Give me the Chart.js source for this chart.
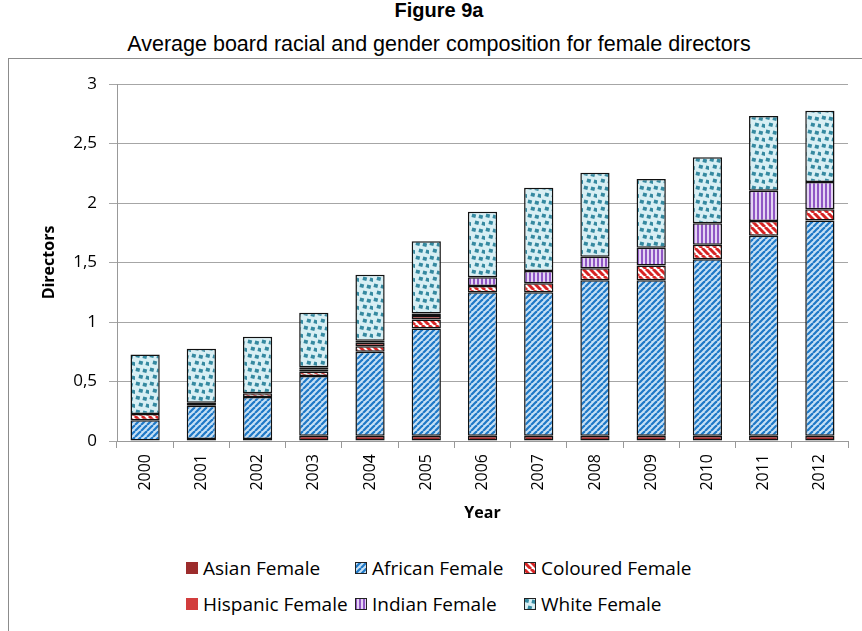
<!DOCTYPE html>
<html>
<head>
<meta charset="utf-8">
<script src="https://cdn.jsdelivr.net/npm/chart.js@4.4.1/dist/chart.umd.min.js"></script>
<style>
  body { margin: 0; background: #fff; width: 862px; height: 631px; overflow: hidden; position: relative; }
  #title { position: absolute; left: 8px; width: 862px; top: -1px; text-align: center; font: bold 20px "Liberation Sans", Arial, sans-serif; }
  #subtitle { position: absolute; left: 8px; width: 862px; top: 32px; text-align: center; font: 21.5px "Liberation Sans", Arial, sans-serif; }
  #box { position: absolute; left: 8px; top: 58px; width: 870px; height: 600px; border: 1px solid #8c8c8c; }
  #chart { position: absolute; left: 9px; top: 59px; }
  .lg { position: absolute; font: 19px "Open Sans", sans-serif; color: #000; white-space: nowrap; }
  .lg canvas { position: absolute; left: -17px; top: 7px; }
</style>
</head>
<body>
<div id="title">Figure 9a</div>
<div id="subtitle">Average board racial and gender composition for female directors</div>
<div id="box"></div>
<canvas id="chart" width="853" height="480"></canvas>
<div id="legend"></div>
<script>
const years = ['2000', '2001', '2002', '2003', '2004', '2005', '2006', '2007', '2008', '2009', '2010', '2011', '2012'];
const asian    = [0, 0.017, 0.017, 0.045, 0.045, 0.045, 0.045, 0.045, 0.045, 0.045, 0.045, 0.045, 0.045];
const african  = [0.174, 0.28, 0.353, 0.501, 0.706, 0.9, 1.205, 1.205, 1.306, 1.306, 1.482, 1.68, 1.807];
const coloured = [0.053, 0.025, 0.031, 0.036, 0.045, 0.076, 0.053, 0.076, 0.1, 0.123, 0.123, 0.123, 0.095];
const hispanic = [0, 0, 0, 0.02, 0.03, 0.03, 0, 0, 0, 0, 0, 0, 0];
const indian   = [0, 0, 0, 0.017, 0.017, 0.02, 0.073, 0.103, 0.098, 0.151, 0.18, 0.255, 0.229];
const white    = [0.5, 0.454, 0.476, 0.459, 0.555, 0.607, 0.55, 0.70, 0.706, 0.577, 0.555, 0.628, 0.6];
const yTicks = [0, 0.5, 1, 1.5, 2, 2.5, 3];

const font = '"Open Sans", sans-serif';

// patrones de relleno
function tile(size, draw) {
  const c = document.createElement('canvas');
  c.width = size; c.height = size;
  draw(c.getContext('2d'), size);
  return document.createElement('canvas').getContext('2d').createPattern(c, 'repeat');
}

const africanFill = tile(6, (g, s) => {
  g.fillStyle = '#c6e0f5'; g.fillRect(0, 0, s, s);
  g.strokeStyle = '#1e78c6'; g.lineWidth = 2.2;
  for (let k = -1; k <= 1; k++) {
    g.beginPath(); g.moveTo(k * s, s); g.lineTo(k * s + s, 0); g.stroke();
  }
});
const colouredFill = tile(7, (g, s) => {
  g.fillStyle = '#ffffff'; g.fillRect(0, 0, s, s);
  g.strokeStyle = '#d72424'; g.lineWidth = 3;
  for (let k = -1; k <= 1; k++) {
    g.beginPath(); g.moveTo(k * s, 0); g.lineTo(k * s + s, s); g.stroke();
  }
});
const indianFill = tile(4, (g, s) => {
  g.fillStyle = '#e4d4f3'; g.fillRect(0, 0, s, s);
  g.fillStyle = '#9057c4'; g.fillRect(0, 0, 2, s);
});
const whiteFill = tile(14, (g, s) => {
  g.fillStyle = '#d8eff4'; g.fillRect(0, 0, s, s);
  g.fillStyle = '#3589a0';
  [[1, 1], [8, 2], [4, 8], [11, 9]].forEach(([x, y]) => {
    g.save(); g.translate(x + 1.8, y + 1.8); g.rotate(0.25); g.fillRect(-2, -1.8, 4, 3.6); g.restore();
  });
});

const series = [
  { label: 'Asian Female', data: asian, fill: '#9c2c2c' },
  { label: 'African Female', data: african, fill: africanFill },
  { label: 'Coloured Female', data: coloured, fill: colouredFill },
  { label: 'Hispanic Female', data: hispanic, fill: '#d23d3d' },
  { label: 'Indian Female', data: indian, fill: indianFill },
  { label: 'White Female', data: white, fill: whiteFill }
];

const chart = new Chart(document.getElementById('chart'), {
  type: 'bar',
  data: {
    labels: years,
    datasets: series.map(s => ({
      label: s.label,
      data: s.data.map(v => v === 0 ? null : v),
      backgroundColor: s.fill,
      borderColor: '#111',
      borderWidth: 1.5,
      borderSkipped: false,
      categoryPercentage: 1,
      barPercentage: 0.52
    }))
  },
  options: {
    responsive: false,
    animation: false,
    devicePixelRatio: 1,
    layout: { padding: { top: 25, right: 14, left: 0, bottom: 0 } },
    plugins: { legend: { display: false }, tooltip: { enabled: false } },
    scales: {
      x: {
        stacked: true,
        grid: { drawOnChartArea: false, offset: true, tickLength: 7, color: '#999' },
        border: { color: '#999' },
        ticks: { minRotation: 90, maxRotation: 90, padding: 6, color: '#000', font: { family: font, size: 16 } },
        title: { display: true, text: 'Year', color: '#000', font: { family: font, size: 16, weight: 'bold' }, padding: { top: 0, bottom: 16 } },
        afterFit: s => { s.height = 98; }
      },
      y: {
        stacked: true,
        min: 0,
        max: 3,
        afterBuildTicks: s => { s.ticks = yTicks.map(v => ({ value: v })); },
        grid: { color: '#a6a6a6', tickLength: 8 },
        border: { color: '#999' },
        ticks: {
          padding: 12, color: '#000', font: { family: font, size: 17 },
          callback: v => String(v).replace('.', ',')
        },
        title: { display: true, text: 'Directors', color: '#000', font: { family: font, size: 16, weight: 'bold' }, padding: { top: 31, bottom: 0 } },
        afterFit: s => { s.width = 108; }
      }
    }
  }
});

// leyenda en HTML, en columnas como el original
const cols = [203, 372, 541];
const rows = [555, 591];
const legend = document.getElementById('legend');
series.forEach((s, i) => {
  const item = document.createElement('div');
  item.className = 'lg';
  item.style.left = cols[i % 3] + 'px';
  item.style.top = rows[Math.floor(i / 3)] + 'px';
  const sw = document.createElement('canvas');
  sw.width = 12; sw.height = 12;
  const g = sw.getContext('2d');
  g.fillStyle = s.fill; g.fillRect(0, 0, 12, 12);
  if (typeof s.fill !== 'string') { g.strokeStyle = '#222'; g.lineWidth = 1; g.strokeRect(0.5, 0.5, 11, 11); }
  item.appendChild(sw);
  item.appendChild(document.createTextNode(s.label));
  legend.appendChild(item);
});
</script>
</body>
</html>
